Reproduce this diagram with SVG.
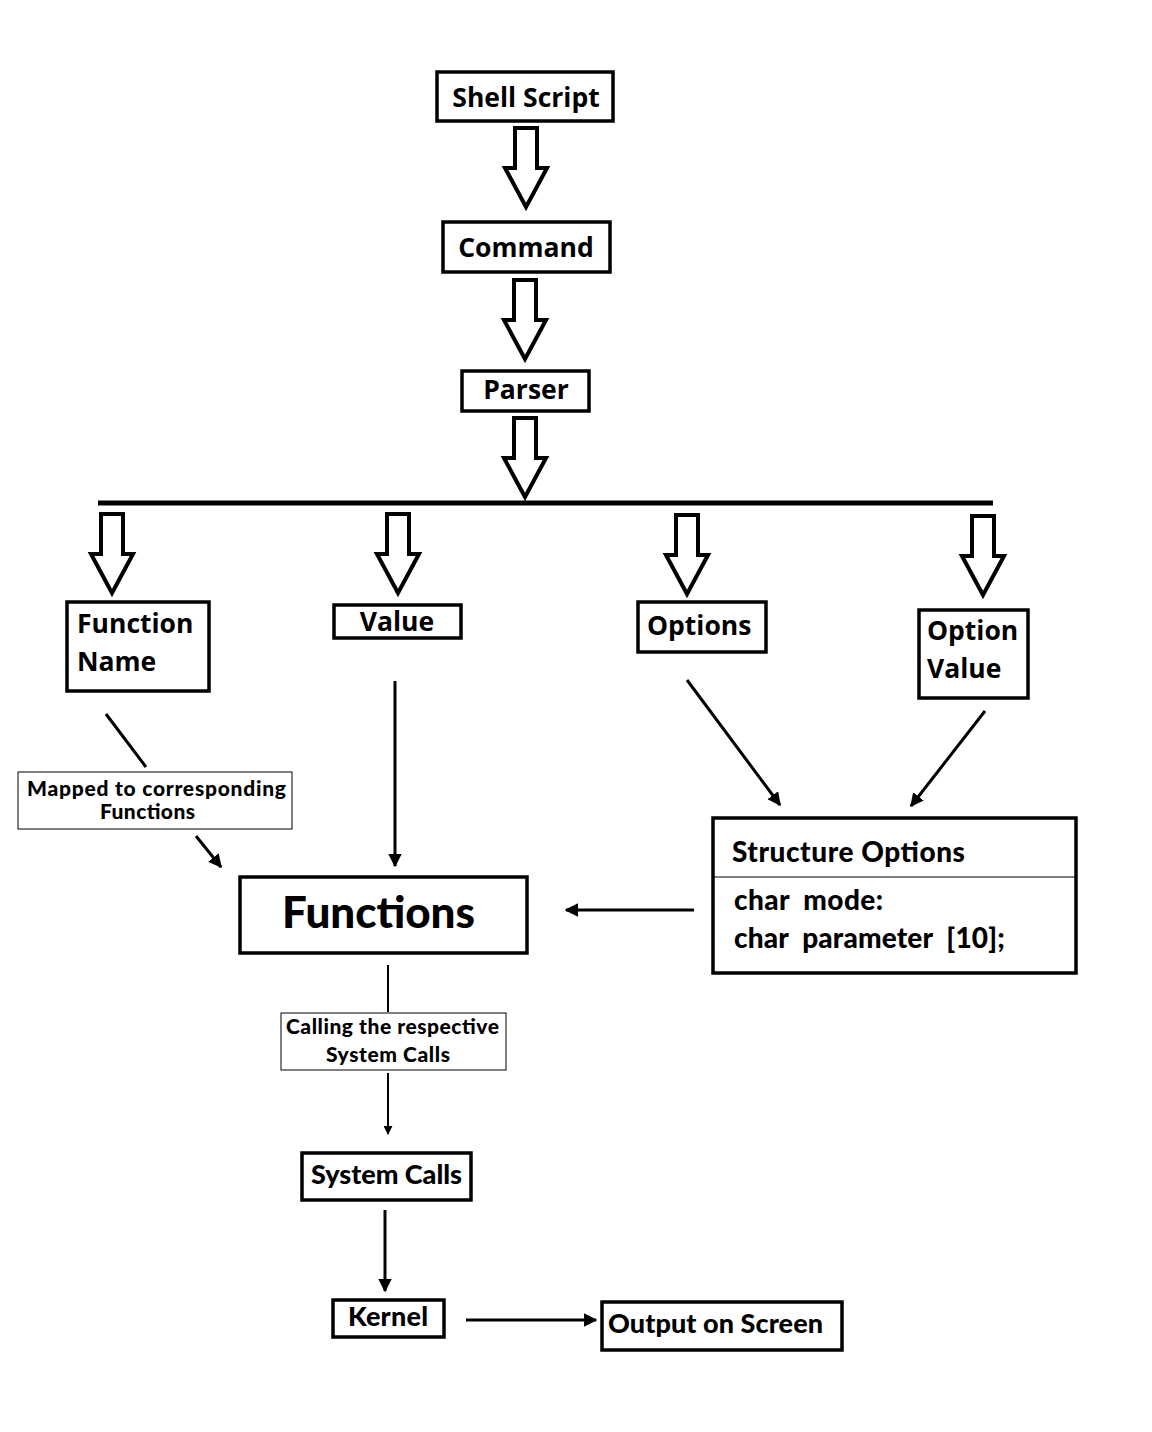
<svg xmlns="http://www.w3.org/2000/svg" xmlns:xlink="http://www.w3.org/1999/xlink" width="1152" height="1432" viewBox="0 0 1152 1432">
<style>
.box{fill:#fff;stroke:#000;stroke-width:3.5}
.thin{fill:#fff;stroke:#000;stroke-width:1}
.lbl{font-family:"Open Sans","DejaVu Sans",sans-serif;font-weight:bold;font-size:26.5px;fill:#000}
.cal{font-family:Lato,"Liberation Sans",sans-serif;font-weight:900;fill:#000}
.ln{stroke:#000;stroke-width:3;fill:none}
.ln2{stroke:#000;stroke-width:2;fill:none}
.hol{fill:#fff;stroke:#000;stroke-width:4;stroke-linejoin:miter}
</style>
<defs>
<path id="hollow" d="M-11,0 H11 V40 H21 L0,79 L-21,40 H-11 Z"/>
<marker id="ah" viewBox="0 0 10 10" refX="9" refY="5" markerWidth="4.5" markerHeight="4.5" orient="auto" markerUnits="strokeWidth">
<path d="M0,0 L10,5 L0,10 Z" fill="#000"/>
</marker>
</defs>
<rect width="1152" height="1432" fill="#fff"/>

<g id="connectors">
<use href="#hollow" x="526" y="128" class="hol"/>
<use href="#hollow" x="525" y="280" class="hol"/>
<use href="#hollow" x="525" y="418" class="hol"/>
<line x1="98" y1="503" x2="993" y2="503" stroke="#000" stroke-width="5"/>
<use href="#hollow" x="112" y="514" class="hol"/>
<use href="#hollow" x="398" y="514" class="hol"/>
<use href="#hollow" x="687" y="515" class="hol"/>
<use href="#hollow" x="983" y="516" class="hol"/>
<line x1="106" y1="714" x2="146" y2="767" class="ln"/>
<line x1="196" y1="836" x2="221" y2="867" class="ln" marker-end="url(#ah)"/>
<line x1="395" y1="681" x2="395" y2="866" class="ln" marker-end="url(#ah)"/>
<line x1="687" y1="680" x2="780" y2="805" class="ln" marker-end="url(#ah)"/>
<line x1="985" y1="711" x2="911" y2="806" class="ln" marker-end="url(#ah)"/>
<line x1="694" y1="910" x2="566" y2="910" class="ln" marker-end="url(#ah)"/>
<line x1="388" y1="965" x2="388" y2="1012" class="ln2"/>
<line x1="388" y1="1073" x2="388" y2="1134" class="ln2" marker-end="url(#ah)"/>
<line x1="385" y1="1210" x2="385" y2="1291" class="ln" marker-end="url(#ah)"/>
<line x1="466" y1="1320" x2="596" y2="1320" class="ln" marker-end="url(#ah)"/>
</g>

<g id="shell-script">
<rect x="437" y="72" width="176" height="49" class="box"/>
<text x="526" y="107" text-anchor="middle" class="lbl">Shell Script</text>
</g>
<g id="command">
<rect x="443" y="222" width="167" height="50" class="box"/>
<text x="526" y="257" text-anchor="middle" class="lbl">Command</text>
</g>
<g id="parser">
<rect x="462" y="371" width="127" height="40" class="box"/>
<text x="526" y="399" text-anchor="middle" class="lbl">Parser</text>
</g>
<g id="function-name">
<rect x="67" y="602" width="142" height="89" class="box"/>
<text x="77" y="633" class="lbl">Function</text>
<text x="77" y="671" class="lbl">Name</text>
</g>
<g id="value">
<rect x="334" y="605" width="127" height="33" class="box"/>
<text x="397" y="631" text-anchor="middle" class="lbl">Value</text>
</g>
<g id="options">
<rect x="638" y="602" width="128" height="50" class="box"/>
<text x="647" y="635" class="lbl">Options</text>
</g>
<g id="option-value">
<rect x="919" y="610" width="109" height="88" class="box"/>
<text x="927" y="640" class="lbl">Option</text>
<text x="927" y="678" class="lbl">Value</text>
</g>
<g id="mapped-label">
<rect x="18" y="772" width="274" height="57" class="thin"/>
<text x="27" y="796" class="cal" font-size="21" textLength="259">Mapped to corresponding</text>
<text x="100" y="819" class="cal" font-size="21" textLength="95">Functions</text>
</g>
<g id="structure-options">
<rect x="713" y="818" width="363" height="155" class="box" stroke-width="3"/>
<line x1="713" y1="877" x2="1076" y2="877" stroke="#000" stroke-width="1"/>
<text x="732" y="862" class="cal" font-size="28" textLength="233">Structure Options</text>
<text x="734" y="910" class="cal" font-size="28" xml:space="preserve" textLength="149">char  mode:</text>
<text x="734" y="948" class="cal" font-size="28" xml:space="preserve" textLength="271">char  parameter  [10];</text>
</g>
<g id="functions">
<rect x="240" y="877" width="287" height="76" class="box" stroke-width="3"/>
<text x="282" y="928" class="cal" font-size="44" textLength="193">Functions</text>
</g>
<g id="calling-label">
<rect x="281" y="1013" width="225" height="57" class="thin"/>
<text x="286" y="1034" class="cal" font-size="21" textLength="213">Calling the respective</text>
<text x="326" y="1062" class="cal" font-size="21" textLength="124">System Calls</text>
</g>
<g id="system-calls">
<rect x="302" y="1153" width="169" height="47" class="box" stroke-width="3"/>
<text x="311" y="1184" class="cal" font-size="27" textLength="151">System Calls</text>
</g>
<g id="kernel">
<rect x="333" y="1300" width="111" height="37" class="box" stroke-width="3"/>
<text x="348" y="1326" class="cal" font-size="27" textLength="80">Kernel</text>
</g>
<g id="output">
<rect x="602" y="1302" width="240" height="48" class="box" stroke-width="3"/>
<text x="608" y="1333" class="cal" font-size="27" textLength="215">Output on Screen</text>
</g>
</svg>
